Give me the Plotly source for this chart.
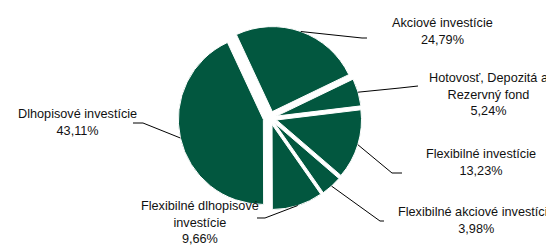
import math
import plotly.graph_objects as go

labels = ["Akciové investície", "Hotovosť, Depozitá a Rezervný fond", "Flexibilné investície",
          "Flexibilné akciové investície", "Flexibilné dlhopisové investície", "Dlhopisové investície"]
values = [24.79, 5.24, 13.23, 3.98, 9.66, 43.11]
label_texts = ["Akciové investície<br>24,79%", "Hotovosť, Depozitá a<br>Rezervný fond<br>5,24%",
               "Flexibilné investície<br>13,23%", "Flexibilné akciové investície<br>3,98%",
               "Flexibilné dlhopisové<br>investície<br>9,66%", "Dlhopisové investície<br>43,11%"]

W, H = 554, 245
OFF = 8                    # page body margin offset, px
GREEN = "#02573F"
CX, CY = 270, 118          # pie centre, px (window coords)
R = 85                     # pie radius, px
PULL = 0.08
ROT = -25
FS = 12.7

# label centres (px) and leader-line elbow points (px), window coords
label_pos = [(442, 31), (489, 94), (481, 162), (476, 220), (200, 222), (77, 122)]
leader_pts = [
    [(362, 38), (367, 38)],
    [(400, 88), (418, 86)],
    [(392, 173), (402, 173)],
    [(380, 221), (384, 221)],
    [(265, 218), (257, 218)],
    [(143, 123), (133, 123)],
]

def px(x, y):
    return (x - OFF) / W, 1 - (y - OFF) / H

half = R * (1 + PULL)
x0, y0 = px(CX - half, CY - half)
x1, y1 = px(CX + half, CY + half)

fig = go.Figure(go.Pie(
    labels=labels, values=values, sort=False, direction="clockwise",
    rotation=ROT, pull=[PULL] * len(values), textinfo="none", hoverinfo="skip",
    marker=dict(colors=[GREEN] * len(values), line=dict(color="white", width=1)),
    domain=dict(x=[x0, x1], y=[y1, y0]), showlegend=False,
))

total = sum(values)
cum = 0
shapes, annotations = [], []
for i, v in enumerate(values):
    mid = ROT + (cum + v / 2) / total * 360
    cum += v
    a = math.radians(mid)
    sx = CX + R * (1 + PULL) * math.sin(a)
    sy = CY - R * (1 + PULL) * math.cos(a)
    pts = [(sx, sy)] + leader_pts[i]
    path = "M " + " L ".join(f"{px(x, y)[0]:.5f},{px(x, y)[1]:.5f}" for x, y in pts)
    shapes.append(dict(type="path", path=path, xref="paper", yref="paper",
                       line=dict(color="black", width=1)))
    lx, ly = px(*label_pos[i])
    annotations.append(dict(x=lx, y=ly, xref="paper", yref="paper", text=label_texts[i],
                            showarrow=False, align="center", xanchor="center", yanchor="middle",
                            font=dict(family="Liberation Sans, Arial", size=FS, color="#111111")))

fig.update_layout(width=W, height=H, margin=dict(l=0, r=0, t=0, b=0),
                  paper_bgcolor="white", plot_bgcolor="white",
                  shapes=shapes, annotations=annotations)
fig.write_html("out.html")
